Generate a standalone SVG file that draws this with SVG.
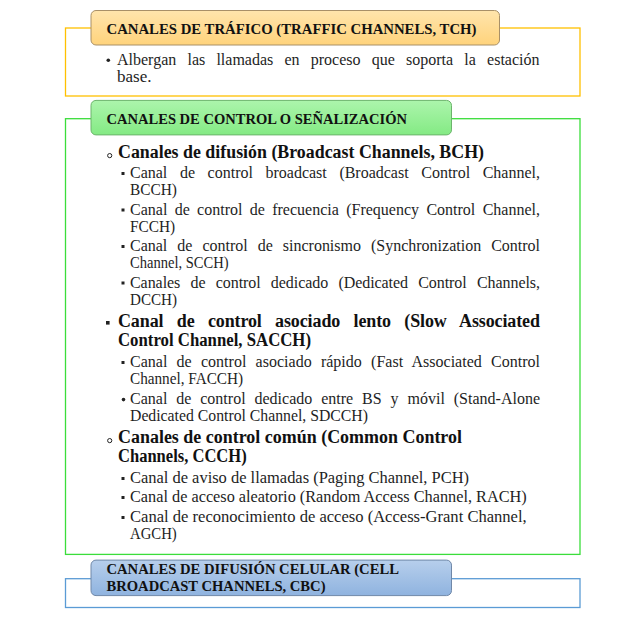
<svg xmlns="http://www.w3.org/2000/svg" width="644" height="621" viewBox="0 0 644 621">
  <defs>
    <linearGradient id="gradTraffic" x1="0" y1="0" x2="0" y2="1">
      <stop offset="0" stop-color="#FFE5AC"/>
      <stop offset="1" stop-color="#FFD37C"/>
    </linearGradient>
    <linearGradient id="gradControl" x1="0" y1="0" x2="0" y2="1">
      <stop offset="0" stop-color="#ACF5AC"/>
      <stop offset="1" stop-color="#84EA84"/>
    </linearGradient>
    <linearGradient id="gradCell" x1="0" y1="0" x2="0" y2="1">
      <stop offset="0" stop-color="#B7CFEC"/>
      <stop offset="1" stop-color="#8FB3DF"/>
    </linearGradient>
    <style>
      .frame { fill: #FFFFFF; stroke-width: 1.3; }
      .head { stroke-width: 1; }
      .htxt { font-family: "Liberation Serif", "DejaVu Serif", serif; font-weight: bold; font-size: 15.5px; fill: #111111; }
      .body { font-family: "Liberation Serif", "DejaVu Serif", serif; font-size: 16px; fill: #1E1E1E; }
      .lvl1 { font-family: "Liberation Serif", "DejaVu Serif", serif; font-weight: bold; font-size: 18px; fill: #111111; }
      .dot { fill: #222222; }
      .ring { fill: none; stroke: #222222; stroke-width: 1; }
    </style>
  </defs>

  <!-- Traffic channels -->
  <g id="traffic">
    <rect class="frame" x="65.5" y="28" width="514.5" height="68" stroke="#FFC000"/>
    <rect class="head" x="91" y="10.5" width="408.5" height="34.5" rx="5" fill="url(#gradTraffic)" stroke="#A89068"/>
    <text class="htxt" x="106.5" y="33.5" textLength="370" lengthAdjust="spacingAndGlyphs">CANALES DE TRÁFICO (TRAFFIC CHANNELS, TCH)</text>
    <circle class="dot" cx="108.3" cy="60.2" r="1.8"/>
    <text class="body" x="117" y="65" word-spacing="7.2" textLength="422.5" lengthAdjust="spacing">Albergan las llamadas en proceso que soporta la estación</text>
    <text class="body" x="117" y="81.5" textLength="34.5" lengthAdjust="spacingAndGlyphs">base.</text>
  </g>

  <!-- Control / signalling channels -->
  <g id="control">
    <rect class="frame" x="65.5" y="118.7" width="514.5" height="435.7" stroke="#3BDD3B"/>
    <rect class="head" x="91" y="100.4" width="360.5" height="34.5" rx="5" fill="url(#gradControl)" stroke="#6CB46C"/>
    <text class="htxt" x="106.5" y="123.7" textLength="300.5" lengthAdjust="spacingAndGlyphs">CANALES DE CONTROL O SEÑALIZACIÓN</text>

    <!-- Broadcast channels -->
    <g id="bch">
      <circle class="ring" cx="109.7" cy="155.6" r="2.1"/>
      <text class="lvl1" x="118" y="158.3" textLength="366" lengthAdjust="spacingAndGlyphs">Canales de difusión (Broadcast Channels, BCH)</text>

      <rect class="dot" x="121.5" y="172" width="3" height="3"/>
      <text class="body" x="130" y="178" word-spacing="8.6" textLength="410" lengthAdjust="spacing">Canal de control broadcast (Broadcast Control Channel,</text>
      <text class="body" x="130" y="195" textLength="47" lengthAdjust="spacingAndGlyphs">BCCH)</text>

      <rect class="dot" x="121.5" y="208.5" width="3" height="3"/>
      <text class="body" x="130" y="214.5" word-spacing="3.3" textLength="410" lengthAdjust="spacing">Canal de control de frecuencia (Frequency Control Channel,</text>
      <text class="body" x="130" y="231.5" textLength="45" lengthAdjust="spacingAndGlyphs">FCCH)</text>

      <rect class="dot" x="121.5" y="245" width="3" height="3"/>
      <text class="body" x="130" y="251" word-spacing="6" textLength="410" lengthAdjust="spacing">Canal de control de sincronismo (Synchronization Control</text>
      <text class="body" x="130" y="268" textLength="98.5" lengthAdjust="spacingAndGlyphs">Channel, SCCH)</text>

      <rect class="dot" x="121.5" y="281.5" width="3" height="3"/>
      <text class="body" x="130" y="287.5" word-spacing="6.3" textLength="410" lengthAdjust="spacing">Canales de control dedicado (Dedicated Control Channels,</text>
      <text class="body" x="130" y="304.5" textLength="47" lengthAdjust="spacingAndGlyphs">DCCH)</text>
    </g>

    <!-- Slow associated control channel -->
    <g id="sacch">
      <rect class="dot" x="106" y="321" width="3.6" height="3.6"/>
      <text class="lvl1" x="118" y="327" word-spacing="9" textLength="422" lengthAdjust="spacing">Canal de control asociado lento (Slow Associated</text>
      <text class="lvl1" x="118" y="346" textLength="193" lengthAdjust="spacingAndGlyphs">Control Channel, SACCH)</text>

      <rect class="dot" x="121.5" y="361" width="3" height="3"/>
      <text class="body" x="130" y="367" word-spacing="5.2" textLength="410" lengthAdjust="spacing">Canal de control asociado rápido (Fast Associated Control</text>
      <text class="body" x="130" y="384" textLength="113" lengthAdjust="spacingAndGlyphs">Channel, FACCH)</text>

      <circle class="dot" cx="123.5" cy="399.6" r="1.8"/>
      <text class="body" x="130" y="404" word-spacing="4.9" textLength="410" lengthAdjust="spacing">Canal de control dedicado entre BS y móvil (Stand-Alone</text>
      <text class="body" x="130" y="421" textLength="238" lengthAdjust="spacingAndGlyphs">Dedicated Control Channel, SDCCH)</text>
    </g>

    <!-- Common control channels -->
    <g id="ccch">
      <circle class="ring" cx="109.7" cy="440.6" r="2.1"/>
      <text class="lvl1" x="118" y="443.3" textLength="344" lengthAdjust="spacingAndGlyphs">Canales de control común (Common Control</text>
      <text class="lvl1" x="118" y="462.3" textLength="128.7" lengthAdjust="spacingAndGlyphs">Channels, CCCH)</text>

      <rect class="dot" x="121.5" y="477" width="3" height="3"/>
      <text class="body" x="130" y="483" textLength="339" lengthAdjust="spacingAndGlyphs">Canal de aviso de llamadas (Paging Channel, PCH)</text>

      <rect class="dot" x="121.5" y="496" width="3" height="3"/>
      <text class="body" x="130" y="502" textLength="396.7" lengthAdjust="spacingAndGlyphs">Canal de acceso aleatorio (Random Access Channel, RACH)</text>

      <rect class="dot" x="121.5" y="516" width="3" height="3"/>
      <text class="body" x="130" y="522" textLength="396.7" lengthAdjust="spacingAndGlyphs">Canal de reconocimiento de acceso (Access-Grant Channel,</text>
      <text class="body" x="130" y="539" textLength="46.7" lengthAdjust="spacingAndGlyphs">AGCH)</text>
    </g>
  </g>

  <!-- Cell broadcast channels -->
  <g id="cell-broadcast">
    <rect class="frame" x="65.5" y="578.7" width="514.5" height="28.8" stroke="#5B9BD5"/>
    <rect class="head" x="91" y="560.1" width="360.5" height="35.5" rx="5" fill="url(#gradCell)" stroke="#7088A8"/>
    <text class="htxt" x="106.5" y="573.7" textLength="292.4" lengthAdjust="spacingAndGlyphs">CANALES DE DIFUSIÓN CELULAR (CELL</text>
    <text class="htxt" x="106.5" y="591.2" textLength="219" lengthAdjust="spacingAndGlyphs">BROADCAST CHANNELS, CBC)</text>
  </g>
</svg>
